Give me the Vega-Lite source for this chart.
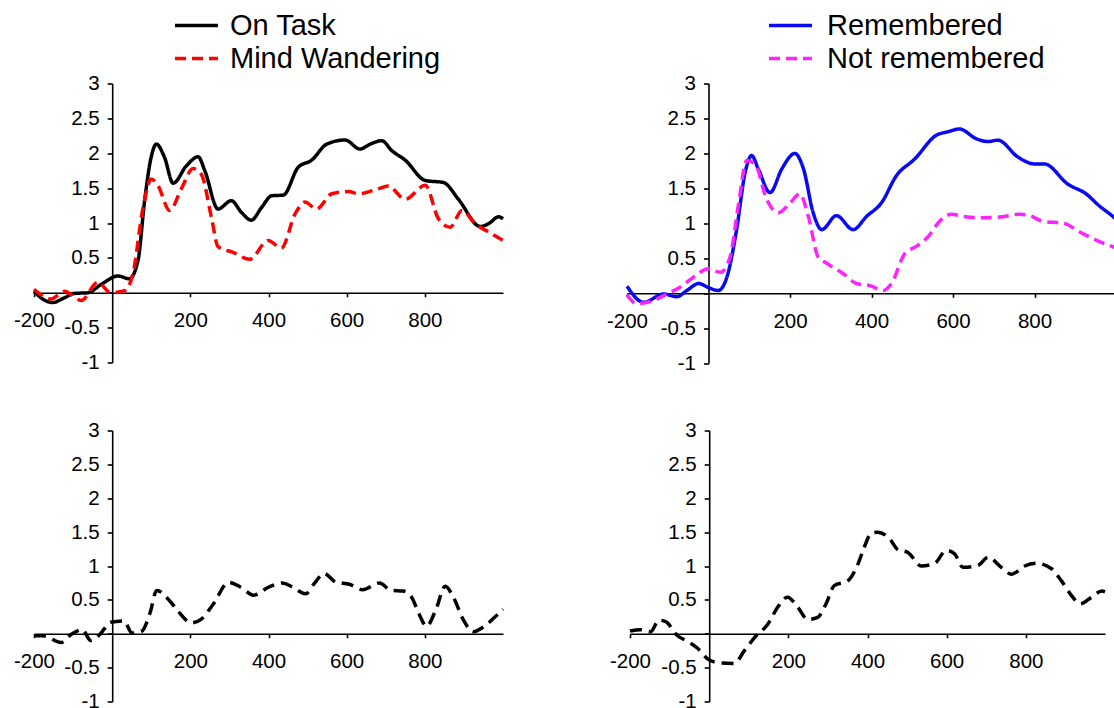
{
  "$schema": "https://vega.github.io/schema/vega-lite/v6.json",
  "background": "white",
  "padding": {"left": 13, "top": 8.5, "right": 0, "bottom": 0},
  "config": {
    "view": {"stroke": null},
    "font": "Liberation Sans",
    "axis": {
      "grid": false,
      "title": null,
      "domainColor": "black",
      "domainWidth": 1.6,
      "tickColor": "black",
      "tickWidth": 1.6,
      "labelFont": "Liberation Sans",
      "labelFontSize": 20.5,
      "labelColor": "black",
      "labelOverlap": false,
      "labelFlush": false
    },
    "legend": {
      "orient": "none",
      "direction": "vertical",
      "title": null,
      "symbolType": "stroke",
      "symbolSize": 1849,
      "symbolStrokeWidth": 3.5,
      "labelFont": "Liberation Sans",
      "labelFontSize": 29,
      "labelColor": "black",
      "labelLimit": 400,
      "labelOffset": 10,
      "clipHeight": 33,
      "rowPadding": 0,
      "padding": 0
    }
  },
  "datasets": {
    "attention": [
      {"s": "On Task", "t": -200, "v": 0.02}, {"s": "On Task", "t": -175, "v": -0.1}, {"s": "On Task", "t": -152, "v": -0.14},
      {"s": "On Task", "t": -125, "v": -0.08}, {"s": "On Task", "t": -97, "v": -0.01}, {"s": "On Task", "t": -62, "v": 0},
      {"s": "On Task", "t": -28, "v": 0.12}, {"s": "On Task", "t": 15, "v": 0.24}, {"s": "On Task", "t": 44, "v": 0.2},
      {"s": "On Task", "t": 66, "v": 0.46}, {"s": "On Task", "t": 83, "v": 1.32}, {"s": "On Task", "t": 100, "v": 1.95},
      {"s": "On Task", "t": 113, "v": 2.13}, {"s": "On Task", "t": 134, "v": 1.94}, {"s": "On Task", "t": 156, "v": 1.57},
      {"s": "On Task", "t": 190, "v": 1.82}, {"s": "On Task", "t": 220, "v": 1.95}, {"s": "On Task", "t": 237, "v": 1.75},
      {"s": "On Task", "t": 271, "v": 1.2}, {"s": "On Task", "t": 305, "v": 1.32}, {"s": "On Task", "t": 331, "v": 1.15},
      {"s": "On Task", "t": 356, "v": 1.04}, {"s": "On Task", "t": 382, "v": 1.22}, {"s": "On Task", "t": 408, "v": 1.39},
      {"s": "On Task", "t": 438, "v": 1.4}, {"s": "On Task", "t": 476, "v": 1.8}, {"s": "On Task", "t": 510, "v": 1.9},
      {"s": "On Task", "t": 549, "v": 2.13}, {"s": "On Task", "t": 596, "v": 2.19}, {"s": "On Task", "t": 634, "v": 2.06},
      {"s": "On Task", "t": 660, "v": 2.13}, {"s": "On Task", "t": 690, "v": 2.18}, {"s": "On Task", "t": 715, "v": 2.04},
      {"s": "On Task", "t": 750, "v": 1.9}, {"s": "On Task", "t": 801, "v": 1.61}, {"s": "On Task", "t": 848, "v": 1.58},
      {"s": "On Task", "t": 886, "v": 1.34}, {"s": "On Task", "t": 942, "v": 0.95}, {"s": "On Task", "t": 963, "v": 0.99},
      {"s": "On Task", "t": 989, "v": 1.09}, {"s": "On Task", "t": 1000, "v": 1.06},
      {"s": "Mind Wandering", "t": -200, "v": 0.05}, {"s": "Mind Wandering", "t": -156, "v": -0.09}, {"s": "Mind Wandering", "t": -122, "v": 0.02},
      {"s": "Mind Wandering", "t": -79, "v": -0.11}, {"s": "Mind Wandering", "t": -37, "v": 0.15}, {"s": "Mind Wandering", "t": -3, "v": 0.0},
      {"s": "Mind Wandering", "t": 32, "v": 0.03}, {"s": "Mind Wandering", "t": 53, "v": 0.27}, {"s": "Mind Wandering", "t": 79, "v": 1.22},
      {"s": "Mind Wandering", "t": 100, "v": 1.63}, {"s": "Mind Wandering", "t": 117, "v": 1.54}, {"s": "Mind Wandering", "t": 147, "v": 1.18},
      {"s": "Mind Wandering", "t": 177, "v": 1.49}, {"s": "Mind Wandering", "t": 207, "v": 1.78}, {"s": "Mind Wandering", "t": 228, "v": 1.7},
      {"s": "Mind Wandering", "t": 254, "v": 1.08}, {"s": "Mind Wandering", "t": 271, "v": 0.66}, {"s": "Mind Wandering", "t": 309, "v": 0.58},
      {"s": "Mind Wandering", "t": 352, "v": 0.48}, {"s": "Mind Wandering", "t": 399, "v": 0.75}, {"s": "Mind Wandering", "t": 433, "v": 0.64},
      {"s": "Mind Wandering", "t": 468, "v": 1.13}, {"s": "Mind Wandering", "t": 493, "v": 1.3}, {"s": "Mind Wandering", "t": 523, "v": 1.2},
      {"s": "Mind Wandering", "t": 562, "v": 1.42}, {"s": "Mind Wandering", "t": 604, "v": 1.45}, {"s": "Mind Wandering", "t": 630, "v": 1.42},
      {"s": "Mind Wandering", "t": 681, "v": 1.49}, {"s": "Mind Wandering", "t": 706, "v": 1.53}, {"s": "Mind Wandering", "t": 750, "v": 1.34},
      {"s": "Mind Wandering", "t": 801, "v": 1.54}, {"s": "Mind Wandering", "t": 835, "v": 1.06}, {"s": "Mind Wandering", "t": 865, "v": 0.94},
      {"s": "Mind Wandering", "t": 895, "v": 1.18}, {"s": "Mind Wandering", "t": 929, "v": 0.99}, {"s": "Mind Wandering", "t": 963, "v": 0.87},
      {"s": "Mind Wandering", "t": 1000, "v": 0.75}
    ],
    "memory": [
      {"s": "Remembered", "t": -200, "v": 0.1}, {"s": "Remembered", "t": -159, "v": -0.13}, {"s": "Remembered", "t": -110, "v": -0.01},
      {"s": "Remembered", "t": -78, "v": -0.05}, {"s": "Remembered", "t": -53, "v": 0.04}, {"s": "Remembered", "t": -24, "v": 0.14},
      {"s": "Remembered", "t": 0, "v": 0.08}, {"s": "Remembered", "t": 24, "v": 0.04}, {"s": "Remembered", "t": 45, "v": 0.23},
      {"s": "Remembered", "t": 69, "v": 0.91}, {"s": "Remembered", "t": 90, "v": 1.73}, {"s": "Remembered", "t": 106, "v": 1.97},
      {"s": "Remembered", "t": 122, "v": 1.78}, {"s": "Remembered", "t": 151, "v": 1.44}, {"s": "Remembered", "t": 180, "v": 1.78},
      {"s": "Remembered", "t": 212, "v": 2.0}, {"s": "Remembered", "t": 233, "v": 1.78}, {"s": "Remembered", "t": 257, "v": 1.15},
      {"s": "Remembered", "t": 278, "v": 0.91}, {"s": "Remembered", "t": 314, "v": 1.11}, {"s": "Remembered", "t": 355, "v": 0.91},
      {"s": "Remembered", "t": 388, "v": 1.1}, {"s": "Remembered", "t": 424, "v": 1.29}, {"s": "Remembered", "t": 461, "v": 1.68},
      {"s": "Remembered", "t": 506, "v": 1.92}, {"s": "Remembered", "t": 559, "v": 2.26}, {"s": "Remembered", "t": 588, "v": 2.31},
      {"s": "Remembered", "t": 616, "v": 2.35}, {"s": "Remembered", "t": 657, "v": 2.21}, {"s": "Remembered", "t": 686, "v": 2.17},
      {"s": "Remembered", "t": 710, "v": 2.19}, {"s": "Remembered", "t": 759, "v": 1.95}, {"s": "Remembered", "t": 800, "v": 1.85},
      {"s": "Remembered", "t": 824, "v": 1.85}, {"s": "Remembered", "t": 882, "v": 1.56}, {"s": "Remembered", "t": 927, "v": 1.42},
      {"s": "Remembered", "t": 959, "v": 1.25}, {"s": "Remembered", "t": 990, "v": 1.11}, {"s": "Remembered", "t": 1000, "v": 1.06},
      {"s": "Not remembered", "t": -200, "v": -0.02}, {"s": "Not remembered", "t": -176, "v": -0.15}, {"s": "Not remembered", "t": -139, "v": -0.11},
      {"s": "Not remembered", "t": -102, "v": -0.01}, {"s": "Not remembered", "t": -69, "v": 0.09}, {"s": "Not remembered", "t": -37, "v": 0.23},
      {"s": "Not remembered", "t": 0, "v": 0.35}, {"s": "Not remembered", "t": 29, "v": 0.3}, {"s": "Not remembered", "t": 53, "v": 0.52},
      {"s": "Not remembered", "t": 73, "v": 1.25}, {"s": "Not remembered", "t": 94, "v": 1.9}, {"s": "Not remembered", "t": 114, "v": 1.85},
      {"s": "Not remembered", "t": 143, "v": 1.34}, {"s": "Not remembered", "t": 171, "v": 1.15}, {"s": "Not remembered", "t": 200, "v": 1.29},
      {"s": "Not remembered", "t": 224, "v": 1.42}, {"s": "Not remembered", "t": 245, "v": 1.1}, {"s": "Not remembered", "t": 269, "v": 0.52},
      {"s": "Not remembered", "t": 290, "v": 0.43}, {"s": "Not remembered", "t": 331, "v": 0.28}, {"s": "Not remembered", "t": 363, "v": 0.14},
      {"s": "Not remembered", "t": 396, "v": 0.11}, {"s": "Not remembered", "t": 429, "v": 0.04}, {"s": "Not remembered", "t": 449, "v": 0.14},
      {"s": "Not remembered", "t": 482, "v": 0.57}, {"s": "Not remembered", "t": 510, "v": 0.67}, {"s": "Not remembered", "t": 539, "v": 0.81},
      {"s": "Not remembered", "t": 567, "v": 1.03}, {"s": "Not remembered", "t": 596, "v": 1.13}, {"s": "Not remembered", "t": 624, "v": 1.1},
      {"s": "Not remembered", "t": 665, "v": 1.08}, {"s": "Not remembered", "t": 714, "v": 1.09}, {"s": "Not remembered", "t": 763, "v": 1.13},
      {"s": "Not remembered", "t": 788, "v": 1.11}, {"s": "Not remembered", "t": 820, "v": 1.03}, {"s": "Not remembered", "t": 873, "v": 1.0},
      {"s": "Not remembered", "t": 910, "v": 0.88}, {"s": "Not remembered", "t": 951, "v": 0.76}, {"s": "Not remembered", "t": 990, "v": 0.67},
      {"s": "Not remembered", "t": 1000, "v": 0.65}
    ],
    "attentionDiff": [
      {"t": -200, "v": -0.03}, {"t": -177, "v": -0.03}, {"t": -131, "v": -0.13}, {"t": -105, "v": -0.01},
      {"t": -76, "v": 0.06}, {"t": -55, "v": -0.1}, {"t": -30, "v": 0.0}, {"t": -4, "v": 0.17},
      {"t": 30, "v": 0.19}, {"t": 51, "v": 0.01}, {"t": 76, "v": 0.04}, {"t": 97, "v": 0.31},
      {"t": 114, "v": 0.64}, {"t": 148, "v": 0.48}, {"t": 169, "v": 0.33}, {"t": 203, "v": 0.16},
      {"t": 229, "v": 0.22}, {"t": 259, "v": 0.44}, {"t": 298, "v": 0.76}, {"t": 328, "v": 0.69},
      {"t": 362, "v": 0.57}, {"t": 401, "v": 0.69}, {"t": 435, "v": 0.75}, {"t": 461, "v": 0.69},
      {"t": 495, "v": 0.59}, {"t": 517, "v": 0.74}, {"t": 542, "v": 0.89}, {"t": 573, "v": 0.76},
      {"t": 607, "v": 0.73}, {"t": 641, "v": 0.65}, {"t": 684, "v": 0.75}, {"t": 714, "v": 0.64},
      {"t": 744, "v": 0.63}, {"t": 766, "v": 0.54}, {"t": 787, "v": 0.27}, {"t": 804, "v": 0.11},
      {"t": 828, "v": 0.35}, {"t": 852, "v": 0.7}, {"t": 873, "v": 0.54}, {"t": 899, "v": 0.2},
      {"t": 924, "v": 0.03}, {"t": 950, "v": 0.1}, {"t": 980, "v": 0.25}, {"t": 1000, "v": 0.36}
    ],
    "memoryDiff": [
      {"t": -200, "v": 0.04}, {"t": -173, "v": 0.06}, {"t": -148, "v": 0.03}, {"t": -127, "v": 0.2},
      {"t": -110, "v": 0.18}, {"t": -80, "v": -0.03}, {"t": -55, "v": -0.11}, {"t": -30, "v": -0.21},
      {"t": -4, "v": -0.37}, {"t": 25, "v": -0.43}, {"t": 63, "v": -0.44}, {"t": 89, "v": -0.25},
      {"t": 114, "v": -0.06}, {"t": 148, "v": 0.14}, {"t": 173, "v": 0.39}, {"t": 198, "v": 0.54},
      {"t": 224, "v": 0.39}, {"t": 249, "v": 0.21}, {"t": 274, "v": 0.24}, {"t": 295, "v": 0.44},
      {"t": 316, "v": 0.71}, {"t": 350, "v": 0.78}, {"t": 376, "v": 1.03}, {"t": 392, "v": 1.28},
      {"t": 409, "v": 1.48}, {"t": 426, "v": 1.5}, {"t": 456, "v": 1.4}, {"t": 477, "v": 1.24},
      {"t": 502, "v": 1.2}, {"t": 536, "v": 1.0}, {"t": 570, "v": 1.04}, {"t": 599, "v": 1.23},
      {"t": 620, "v": 1.18}, {"t": 641, "v": 0.98}, {"t": 679, "v": 1.01}, {"t": 705, "v": 1.13},
      {"t": 738, "v": 0.98}, {"t": 764, "v": 0.88}, {"t": 797, "v": 1.0}, {"t": 827, "v": 1.04},
      {"t": 865, "v": 0.96}, {"t": 890, "v": 0.78}, {"t": 916, "v": 0.56}, {"t": 937, "v": 0.44},
      {"t": 966, "v": 0.54}, {"t": 992, "v": 0.63}, {"t": 1000, "v": 0.62}
    ]
  },
  "vconcat": [
    {
      "spacing": 96,
      "hconcat": [
        {
          "width": 469,
          "height": 279,
          "data": {"name": "attention"},
          "mark": {"type": "line", "interpolate": "monotone", "strokeWidth": 3.5},
          "encoding": {
            "x": {
              "field": "t", "type": "quantitative",
              "scale": {"domain": [-200, 1000], "nice": false, "zero": false},
              "axis": {"orient": "bottom", "offset": -69.75, "values": [-200, 200, 400, 600, 800], "tickSize": 4, "labelPadding": 14, "labelExpr": "'' + datum.value"}
            },
            "y": {
              "field": "v", "type": "quantitative",
              "scale": {"domain": [-1, 3], "nice": false},
              "axis": {"orient": "left", "offset": -78.2, "values": [-1, -0.5, 0, 0.5, 1, 1.5, 2, 2.5, 3], "tickSize": 5, "labelPadding": 8, "labelExpr": "datum.value == 0 ? '' : '' + datum.value"}
            },
            "color": {
              "field": "s", "type": "nominal",
              "scale": {"domain": ["On Task", "Mind Wandering"], "range": ["#000000", "#ff0000"]},
              "legend": {"legendX": 139, "legendY": -74.5}
            },
            "strokeDash": {
              "field": "s", "type": "nominal",
              "scale": {"domain": ["On Task", "Mind Wandering"], "range": [[1, 0], [11, 6]]},
              "legend": {"legendX": 139, "legendY": -74.5}
            }
          }
        },
        {
          "width": 489,
          "height": 279.7,
          "data": {"name": "memory"},
          "mark": {"type": "line", "interpolate": "monotone", "strokeWidth": 3.5},
          "encoding": {
            "x": {
              "field": "t", "type": "quantitative",
              "scale": {"domain": [-200, 1000], "nice": false, "zero": false},
              "axis": {"orient": "bottom", "offset": -69.9, "values": [-200, 200, 400, 600, 800], "tickSize": 4, "labelPadding": 14, "labelExpr": "'' + datum.value"}
            },
            "y": {
              "field": "v", "type": "quantitative",
              "scale": {"domain": [-1, 3], "nice": false},
              "axis": {"orient": "left", "offset": -81.5, "values": [-1, -0.5, 0, 0.5, 1, 1.5, 2, 2.5, 3], "tickSize": 5, "labelPadding": 8, "labelExpr": "datum.value == 0 ? '' : '' + datum.value"}
            },
            "color": {
              "field": "s", "type": "nominal",
              "scale": {"domain": ["Remembered", "Not remembered"], "range": ["#0a0af0", "#ff22ff"]},
              "legend": {"legendX": 140, "legendY": -74.5, "labelOffset": 13}
            },
            "strokeDash": {
              "field": "s", "type": "nominal",
              "scale": {"domain": ["Remembered", "Not remembered"], "range": [[1, 0], [11, 6]]},
              "legend": {"legendX": 140, "legendY": -74.5, "labelOffset": 13}
            }
          }
        }
      ],
      "resolve": {"scale": {"color": "independent", "strokeDash": "independent"}, "legend": {"color": "independent", "strokeDash": "independent"}}
    },
    {
      "spacing": 99,
      "hconcat": [
        {
          "width": 469,
          "height": 271,
          "data": {"name": "attentionDiff"},
          "mark": {"type": "line", "interpolate": "monotone", "strokeWidth": 3.5, "color": "black", "strokeDash": [12, 7]},
          "encoding": {
            "x": {
              "field": "t", "type": "quantitative",
              "scale": {"domain": [-200, 1000], "nice": false, "zero": false},
              "axis": {"orient": "bottom", "offset": -67.75, "values": [-200, 200, 400, 600, 800], "tickSize": 4, "labelPadding": 14, "labelExpr": "'' + datum.value"}
            },
            "y": {
              "field": "v", "type": "quantitative",
              "scale": {"domain": [-1, 3], "nice": false},
              "axis": {"orient": "left", "offset": -78.2, "values": [-1, -0.5, 0, 0.5, 1, 1.5, 2, 2.5, 3], "tickSize": 5, "labelPadding": 8, "labelExpr": "datum.value == 0 ? '' : '' + datum.value"}
            }
          }
        },
        {
          "width": 475,
          "height": 271,
          "data": {"name": "memoryDiff"},
          "mark": {"type": "line", "interpolate": "monotone", "strokeWidth": 3.5, "color": "black", "strokeDash": [12, 7]},
          "encoding": {
            "x": {
              "field": "t", "type": "quantitative",
              "scale": {"domain": [-200, 1000], "nice": false, "zero": false},
              "axis": {"orient": "bottom", "offset": -67.75, "values": [-200, 200, 400, 600, 800], "tickSize": 4, "labelPadding": 14, "labelExpr": "'' + datum.value"}
            },
            "y": {
              "field": "v", "type": "quantitative",
              "scale": {"domain": [-1, 3], "nice": false},
              "axis": {"orient": "left", "offset": -79.2, "values": [-1, -0.5, 0, 0.5, 1, 1.5, 2, 2.5, 3], "tickSize": 5, "labelPadding": 8, "labelExpr": "datum.value == 0 ? '' : '' + datum.value"}
            }
          }
        }
      ]
    }
  ],
  "spacing": 46
}
